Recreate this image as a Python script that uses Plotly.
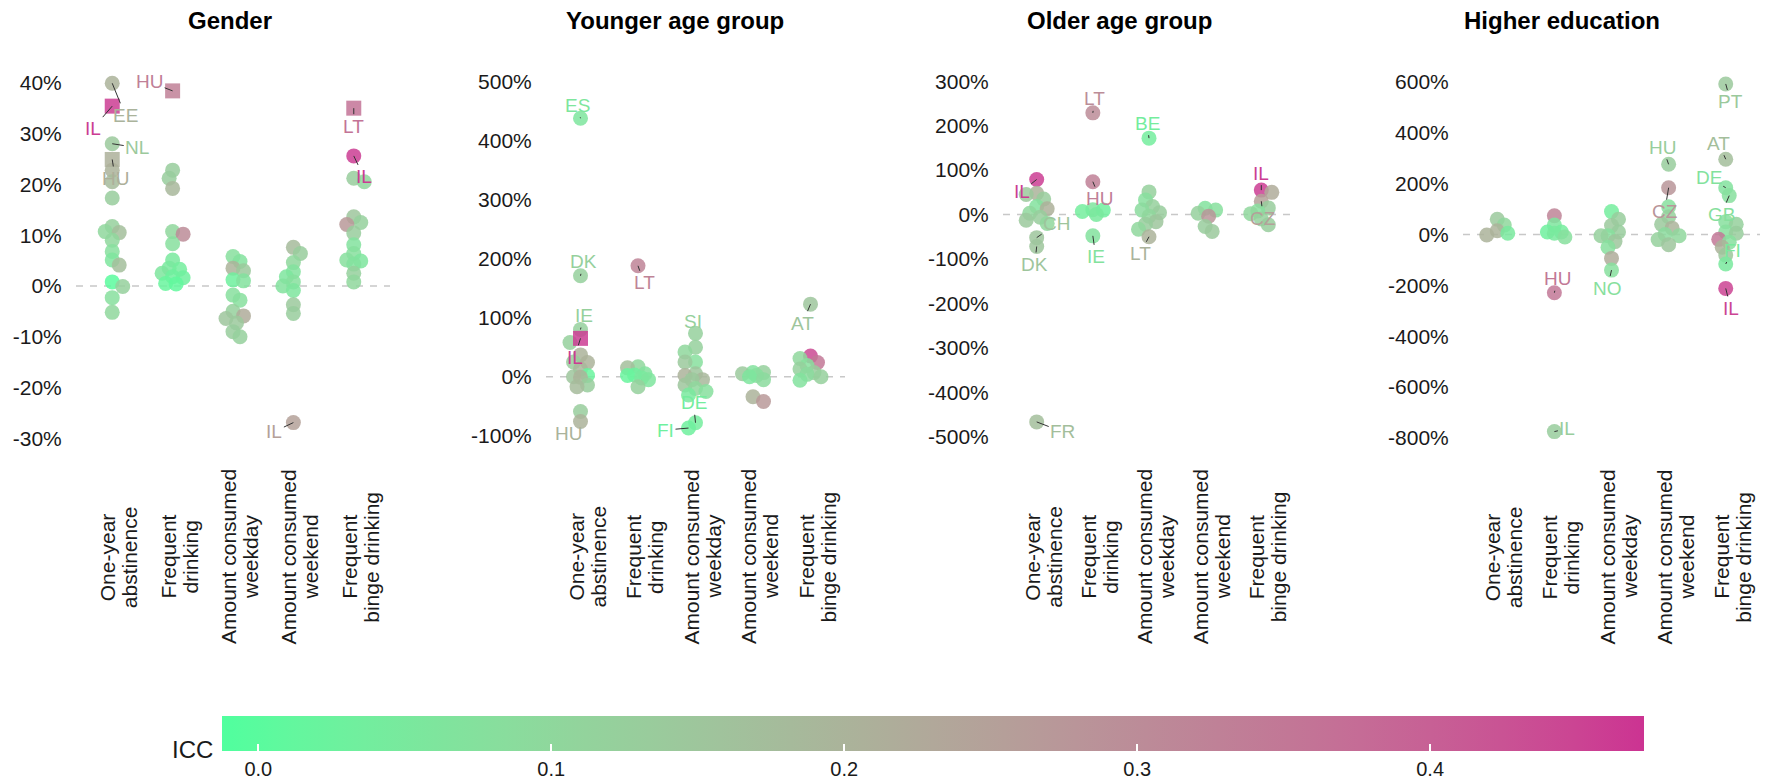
import numpy as np
import plotly.graph_objects as go

W, H = 1771, 782

# ---------------------------------------------------------------- data
CATEGORIES = [("One-year", "abstinence"), ("Frequent", "drinking"),
              ("Amount consumed", "weekday"), ("Amount consumed", "weekend"),
              ("Frequent", "binge drinking")]
PANEL_TITLES = ["Gender", "Younger age group", "Older age group", "Higher education"]

# relative difference (1.0 = 100%) per outcome, one list per category
gender_values = [
    [0.399, 0.354, 0.280, 0.249, 0.228, 0.205, 0.173, 0.117, 0.107, 0.105, 0.090, 0.068, 0.051, 0.041, 0.008, -0.001, -0.023, -0.052],
    [0.384, 0.228, 0.212, 0.192, 0.107, 0.102, 0.083, 0.051, 0.035, 0.033, 0.025, 0.018, 0.016, 0.005, 0.004],
    [0.058, 0.048, 0.035, 0.030, 0.012, 0.010, -0.018, -0.028, -0.050, -0.059, -0.064, -0.073, -0.090, -0.100],
    [0.076, 0.064, 0.046, 0.028, 0.018, 0.008, 0.000, -0.009, -0.037, -0.054, -0.269],
    [0.350, 0.256, 0.212, 0.205, 0.136, 0.125, 0.121, 0.104, 0.081, 0.064, 0.051, 0.049, 0.043, 0.025, 0.008],
]
gender_icc = [
    [0.20, 0.46, 0.14, 0.21, 0.20, 0.18, 0.13, 0.12, 0.10, 0.17, 0.10, 0.08, 0.06, 0.17, 0.00, 0.12, 0.08, 0.10],
    [0.33, 0.13, 0.13, 0.19, 0.10, 0.30, 0.08, 0.05, 0.05, 0.04, 0.06, 0.03, 0.03, 0.02, 0.01],
    [0.08, 0.07, 0.20, 0.14, 0.03, 0.07, 0.08, 0.08, 0.12, 0.22, 0.15, 0.14, 0.13, 0.12],
    [0.18, 0.13, 0.10, 0.07, 0.06, 0.08, 0.07, 0.06, 0.14, 0.13, 0.25],
    [0.36, 0.46, 0.13, 0.10, 0.15, 0.12, 0.27, 0.13, 0.07, 0.08, 0.08, 0.06, 0.07, 0.12, 0.10],
]
gender_codes = [
    ["EE", "IL", "NL", "HU"] + [""] * 14,
    ["HU"] + [""] * 14,
    [""] * 14,
    [""] * 10 + ["IL"],
    ["LT", "IL"] + [""] * 13,
]
gender_squares = [(0, "IL"), (0, "HU"), (1, "HU"), (4, "LT")]

younger_values = [
    [4.38, 1.71, 0.80, 0.65, 0.58, 0.37, 0.25, 0.24, 0.13, 0.02, 0.00, -0.01, -0.14, -0.17, -0.59, -0.76],
    [1.88, 0.17, 0.15, 0.05, 0.03, 0.02, -0.02, -0.05, -0.17],
    [0.735, 0.50, 0.42, 0.25, 0.25, 0.05, 0.02, -0.05, -0.05, -0.14, -0.20, -0.25, -0.31, -0.78, -0.87],
    [0.07, 0.07, 0.05, 0.02, 0.00, -0.05, -0.34, -0.42],
    [1.23, 0.35, 0.31, 0.24, 0.19, 0.13, 0.07, 0.04, 0.00, -0.06],
]
younger_icc = [
    [0.06, 0.12, 0.12, 0.46, 0.12, 0.20, 0.13, 0.20, 0.19, 0.02, 0.15, 0.20, 0.13, 0.18, 0.13, 0.20],
    [0.32, 0.10, 0.17, 0.07, 0.03, 0.02, 0.05, 0.06, 0.12],
    [0.12, 0.12, 0.10, 0.08, 0.14, 0.15, 0.20, 0.19, 0.14, 0.15, 0.10, 0.08, 0.05, 0.04, 0.03],
    [0.07, 0.12, 0.14, 0.08, 0.06, 0.09, 0.20, 0.27],
    [0.15, 0.44, 0.10, 0.35, 0.08, 0.12, 0.13, 0.09, 0.12, 0.07],
]
younger_codes = [
    ["ES", "DK", "IE", "IL"] + [""] * 11 + ["HU"],
    ["LT"] + [""] * 8,
    ["SI"] + [""] * 12 + ["DE", "FI"],
    [""] * 8,
    ["AT"] + [""] * 9,
]
younger_squares = [(0, "IL")]

older_values = [
    [0.79, 0.48, 0.45, 0.35, 0.18, 0.13, 0.03, -0.06, -0.13, -0.20, -0.52, -0.72, -4.67],
    [2.29, 0.74, 0.11, 0.10, 0.07, 0.00, -0.48],
    [1.72, 0.51, 0.33, 0.18, 0.10, 0.04, -0.04, -0.16, -0.22, -0.33, -0.50],
    [0.14, 0.10, 0.03, -0.04, -0.27, -0.38],
    [0.55, 0.50, 0.30, 0.15, 0.08, 0.02, -0.10, -0.23],
]
older_icc = [
    [0.46, 0.20, 0.14, 0.13, 0.07, 0.21, 0.10, 0.13, 0.14, 0.10, 0.15, 0.15, 0.17],
    [0.30, 0.33, 0.06, 0.03, 0.04, 0.05, 0.07],
    [0.04, 0.12, 0.08, 0.12, 0.09, 0.13, 0.10, 0.15, 0.13, 0.10, 0.20],
    [0.07, 0.08, 0.12, 0.28, 0.13, 0.14],
    [0.46, 0.22, 0.25, 0.13, 0.08, 0.10, 0.12, 0.13],
]
older_codes = [
    ["IL"] + [""] * 9 + ["CH", "DK", "FR"],
    ["LT", "HU", "", "", "", "", "IE"],
    ["BE"] + [""] * 9 + ["LT"],
    [""] * 6,
    ["IL", "", "CZ"] + [""] * 5,
]
older_squares = []

higher_values = [
    [0.60, 0.37, 0.15, 0.05, -0.02],
    [0.74, 0.37, 0.10, 0.10, 0.05, -0.10, -2.29, -7.75],
    [0.90, 0.60, 0.35, 0.10, -0.05, -0.05, -0.28, -0.50, -0.94, -1.40],
    [2.76, 1.84, 1.09, 0.70, 0.40, 0.25, 0.00, -0.05, -0.20, -0.40],
    [5.92, 2.96, 1.84, 1.53, 0.50, 0.40, 0.10, 0.05, -0.19, -0.30, -0.50, -0.81, -1.16, -2.12],
]
higher_icc = [
    [0.14, 0.10, 0.20, 0.05, 0.20],
    [0.32, 0.06, 0.03, 0.04, 0.05, 0.08, 0.35, 0.13],
    [0.04, 0.13, 0.14, 0.13, 0.08, 0.12, 0.15, 0.08, 0.22, 0.08],
    [0.13, 0.28, 0.08, 0.12, 0.14, 0.20, 0.09, 0.10, 0.12, 0.15],
    [0.14, 0.17, 0.07, 0.08, 0.08, 0.12, 0.08, 0.13, 0.35, 0.08, 0.20, 0.15, 0.05, 0.45],
]
higher_codes = [
    [""] * 5,
    [""] * 6 + ["HU", "IL"],
    [""] * 9 + ["NO"],
    ["HU", "CZ"] + [""] * 8,
    ["PT", "AT", "DE", "GB"] + [""] * 8 + ["FI", "IL"],
]
higher_squares = []

# y-axis ticks per panel (fractions)
gender_ticks = [-0.3, -0.2, -0.1, 0.0, 0.1, 0.2, 0.3, 0.4]
younger_ticks = [-1, 0, 1, 2, 3, 4, 5]
older_ticks = [-5, -4, -3, -2, -1, 0, 1, 2, 3]
higher_ticks = [-8, -6, -4, -2, 0, 2, 4, 6]
ICC_TICKS = [0.0, 0.1, 0.2, 0.3, 0.4]

# ---------------------------------------------------------------- layout settings
FONT = "Arial, Liberation Sans, sans-serif"
PANEL_X_PX = [(76, 390), (546, 845), (1003, 1295), (1463, 1760)]
PANEL_Y_PX = (66, 449)
TITLE_X_PX = [230, 675, 1119, 1562]
Y_RANGES = [(-0.321, 0.433), (-1.225, 5.266), (-5.28, 3.345), (-8.435, 6.626)]
X_RANGE = (-0.6, 4.6)
CMIN, CMAX = -0.0124, 0.473
LOW, HIGH = "#50FF9E", "#CC3392"

# label offsets (pixels) for named countries: (panel, category, code) -> (dx, dy)
LABEL_OFFSETS = {
    (0, 0, "EE"): (13, 32), (0, 0, "IL"): (-19, 22), (0, 0, "NL"): (25, 4), (0, 0, "HU"): (3, 19),
    (0, 1, "HU"): (-23, -9), (0, 3, "IL"): (-19, 9), (0, 4, "LT"): (0, 18), (0, 4, "IL"): (10, 21),
    (1, 0, "ES"): (-3, -13), (1, 0, "DK"): (3, -14), (1, 0, "IE"): (3, -14), (1, 0, "IL"): (-6, 19),
    (1, 0, "HU"): (-12, 12), (1, 1, "LT"): (6, 17), (1, 2, "SI"): (-3, -12), (1, 2, "DE"): (-2, -20),
    (1, 2, "FI"): (-23, 2), (1, 4, "AT"): (-8, 19),
    (2, 0, "IL"): (-15, 12), (2, 0, "CH"): (20, -14), (2, 0, "DK"): (-2, 18), (2, 0, "FR"): (26, 10),
    (2, 1, "LT"): (2, -14), (2, 1, "HU"): (7, 17), (2, 1, "IE"): (3, 21), (2, 2, "BE"): (-2, -15),
    (2, 2, "LT"): (-9, 17), (2, 4, "IL"): (0, -17), (2, 4, "CZ"): (2, 17),
    (3, 1, "HU"): (3, -14), (3, 1, "IL"): (13, -3), (3, 2, "NO"): (-4, 18), (3, 3, "HU"): (-6, -17),
    (3, 3, "CZ"): (-4, 24), (3, 4, "PT"): (5, 18), (3, 4, "AT"): (-7, -16), (3, 4, "DE"): (-17, -10),
    (3, 4, "GB"): (-8, 19), (3, 4, "FI"): (7, -14), (3, 4, "IL"): (5, 20),
}


# ---------------------------------------------------------------- colour scale (Lab interpolation)
def _to_lab(hexc):
    rgb = [int(hexc[i:i + 2], 16) / 255 for i in (1, 3, 5)]
    r, g, b = [c / 12.92 if c <= 0.04045 else ((c + 0.055) / 1.055) ** 2.4 for c in rgb]
    X = (0.4124 * r + 0.3576 * g + 0.1805 * b) / 0.95047
    Y = 0.2126 * r + 0.7152 * g + 0.0722 * b
    Z = (0.0193 * r + 0.1192 * g + 0.9505 * b) / 1.08883
    f = lambda t: t ** (1 / 3) if t > 0.008856 else 7.787 * t + 16 / 116
    fx, fy, fz = f(X), f(Y), f(Z)
    return np.array([116 * fy - 16, 500 * (fx - fy), 200 * (fy - fz)])


def _to_hex(lab):
    L, a, b = lab
    fy = (L + 16) / 116
    fx, fz = fy + a / 500, fy - b / 200
    finv = lambda t: t ** 3 if t ** 3 > 0.008856 else (t - 16 / 116) / 7.787
    X, Y, Z = finv(fx) * 0.95047, finv(fy), finv(fz) * 1.08883
    lin = [3.2406 * X - 1.5372 * Y - 0.4986 * Z,
           -0.9689 * X + 1.8758 * Y + 0.0415 * Z,
           0.0557 * X - 0.2040 * Y + 1.0570 * Z]
    out = []
    for c in lin:
        c = min(1.0, max(0.0, c))
        c = 12.92 * c if c <= 0.0031308 else 1.055 * c ** (1 / 2.4) - 0.055
        out.append(int(round(c * 255)))
    return "#%02x%02x%02x" % tuple(out)


LAB_LO, LAB_HI = _to_lab(LOW), _to_lab(HIGH)


def icc_color(v):
    t = min(1.0, max(0.0, (v - CMIN) / (CMAX - CMIN)))
    return _to_hex(LAB_LO + t * (LAB_HI - LAB_LO))


COLORSCALE = [[t, _to_hex(LAB_LO + t * (LAB_HI - LAB_LO))] for t in np.linspace(0, 1, 21)]


# ---------------------------------------------------------------- helpers
def swarm_offsets(vals, px_y, px_x, diam=8.5, step=3.5, max_off=0.2):
    """Spread points sideways so that they overlap less (deterministic)."""
    order = sorted(range(len(vals)), key=lambda i: -vals[i])
    placed, offs = [], [0.0] * len(vals)
    for n, i in enumerate(order):
        y = vals[i] * px_y
        sign = 1 if n % 2 else -1
        cands = [0.0]
        for k in range(1, 8):
            cands += [sign * k * step, -sign * k * step]
        best, bestd = 0.0, -1.0
        for c in cands:
            if abs(c) > max_off * px_x:
                continue
            d = min([np.hypot(c - px, y - py) for px, py in placed], default=1e9)
            if d >= diam:
                best = c
                break
            if d > bestd:
                best, bestd = c, d
        placed.append((best, y))
        offs[i] = best / px_x
    return offs


panels = [
    (gender_values, gender_icc, gender_codes, gender_squares, gender_ticks),
    (younger_values, younger_icc, younger_codes, younger_squares, younger_ticks),
    (older_values, older_icc, older_codes, older_squares, older_ticks),
    (higher_values, higher_icc, higher_codes, higher_squares, higher_ticks),
]

fig = go.Figure()
annotations, shapes = [], []
layout_axes = {}

for p, (vals, iccs, codes, squares, ticks) in enumerate(panels):
    suffix = "" if p == 0 else str(p + 1)
    xa, ya = "x" + suffix, "y" + suffix
    x0, x1 = PANEL_X_PX[p]
    y0, y1 = PANEL_Y_PX
    px_x = (x1 - x0) / (X_RANGE[1] - X_RANGE[0])
    px_y = (y1 - y0) / (Y_RANGES[p][1] - Y_RANGES[p][0])
    offsets = [swarm_offsets(vals[k], px_y, px_x) for k in range(5)]

    for shape_name in ("circle", "square"):
        xs, ys, cs, texts = [], [], [], []
        for k in range(5):
            for i, v in enumerate(vals[k]):
                is_sq = codes[k][i] != "" and (k, codes[k][i]) in squares
                if (shape_name == "square") != is_sq:
                    continue
                xs.append(k + offsets[k][i])
                ys.append(v)
                cs.append(iccs[k][i])
                texts.append(codes[k][i])
        if not xs:
            continue
        fig.add_trace(go.Scatter(
            x=xs, y=ys, mode="markers", xaxis=xa, yaxis=ya, text=texts,
            marker=dict(color=cs, coloraxis="coloraxis", symbol=shape_name,
                        size=15, opacity=0.85, line=dict(width=0)),
            showlegend=False, hoverinfo="x+y+text"))

    # country labels with short leader segments
    for k in range(5):
        for i, code in enumerate(codes[k]):
            if not code:
                continue
            dx, dy = LABEL_OFFSETS.get((p, k, code), (0, -15))
            annotations.append(dict(
                x=k + offsets[k][i], y=vals[k][i], xref=xa, yref=ya, text=code,
                showarrow=True, ax=dx, ay=dy, arrowhead=0, arrowwidth=1,
                arrowcolor="#333333", standoff=0,
                font=dict(family=FONT, size=19, color=icc_color(iccs[k][i]))))

    # category labels: two rotated lines, each centred
    for k, lines in enumerate(CATEGORIES):
        for j, line in enumerate(lines):
            annotations.append(dict(
                x=k, y=1 - 557 / H, xref=xa, yref="paper", text=line, textangle=-90,
                showarrow=False, xanchor="center", yanchor="middle",
                xshift=-5 + 22 * j,
                font=dict(family=FONT, size=21, color="#1a1a1a")))

    # panel title
    annotations.append(dict(
        x=TITLE_X_PX[p] / W, y=1 - 21 / H, xref="paper", yref="paper",
        text=f"<b>{PANEL_TITLES[p]}</b>", showarrow=False,
        xanchor="center", yanchor="middle",
        font=dict(family=FONT, size=24, color="#000000")))

    # dashed zero reference line
    shapes.append(dict(type="line", xref=f"{xa} domain", yref=ya, x0=0, x1=1, y0=0, y1=0,
                       line=dict(color="#c8c8c8", width=1.5, dash="7px,7px"), layer="below"))

    ticktext = [f"{round(t * 100):d}%" for t in ticks]

    layout_axes["xaxis" + suffix] = dict(
        domain=[x0 / W, x1 / W], range=list(X_RANGE), anchor=ya,
        showticklabels=False, showgrid=False, zeroline=False, showline=False, ticks="")
    layout_axes["yaxis" + suffix] = dict(
        domain=[1 - y1 / H, 1 - y0 / H], range=list(Y_RANGES[p]), anchor=xa,
        tickvals=ticks, ticktext=ticktext, showgrid=False, zeroline=False, showline=False,
        ticks="outside", ticklen=9, tickcolor="rgba(0,0,0,0)",
        tickfont=dict(family=FONT, size=21, color="#1a1a1a"))

# legend title for the colour bar
annotations.append(dict(
    x=215 / W, y=1 - 749 / H, xref="paper", yref="paper", text="ICC", showarrow=False,
    xanchor="right", yanchor="middle", font=dict(family=FONT, size=24, color="#1a1a1a")))

bar_x0, bar_x1, bar_top = 222, 1644, 716
fig.update_layout(
    width=W, height=H,
    margin=dict(l=0, r=0, t=0, b=0, autoexpand=False),
    paper_bgcolor="white", plot_bgcolor="white",
    font=dict(family=FONT),
    coloraxis=dict(
        cmin=CMIN, cmax=CMAX, colorscale=COLORSCALE,
        colorbar=dict(
            orientation="h", x=(bar_x0 + bar_x1) / 2 / W, xanchor="center",
            y=1 - bar_top / H, yanchor="top", len=(bar_x1 - bar_x0) / W, lenmode="fraction",
            thickness=35, thicknessmode="pixels", outlinewidth=0, xpad=0, ypad=0,
            tickvals=ICC_TICKS, ticktext=[f"{t:.1f}" for t in ICC_TICKS],
            ticks="inside", ticklen=7, tickwidth=1.5, tickcolor="white",
            tickfont=dict(family=FONT, size=20, color="#1a1a1a"),
            title=dict(text=""))),
    annotations=annotations, shapes=shapes,
    **layout_axes)

fig.write_html("out.html")
